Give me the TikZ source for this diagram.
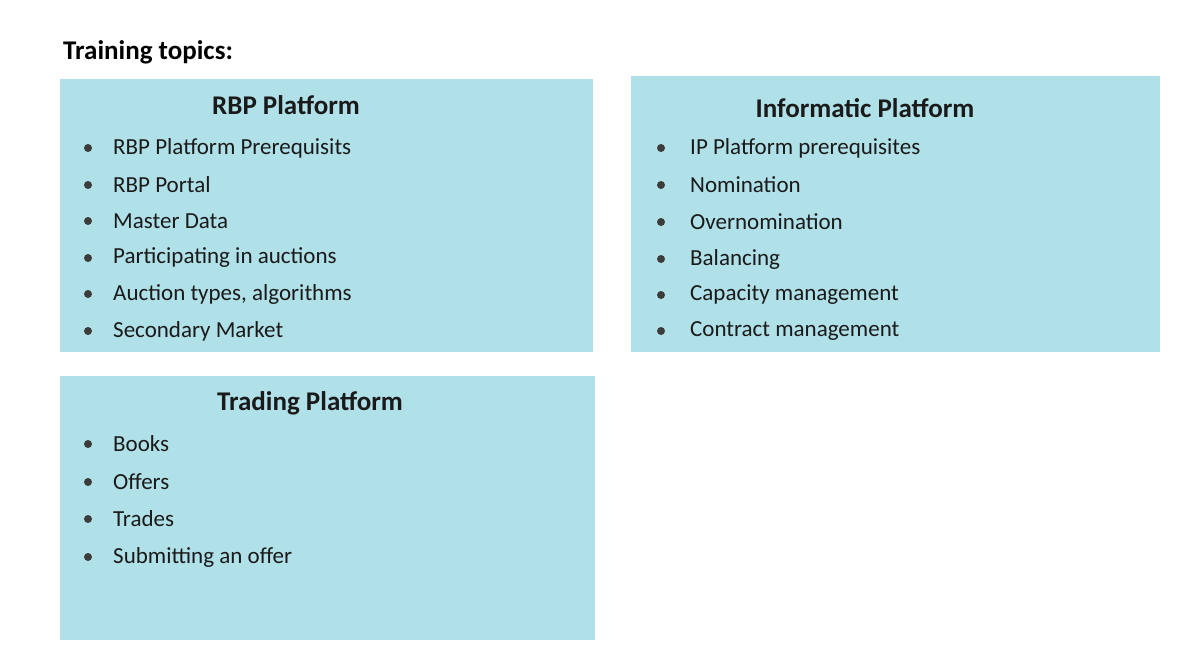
\documentclass[tikz,border=0pt]{standalone}
\usepackage{fontspec}
\setmainfont{Carlito}
\definecolor{boxc}{HTML}{B0E0E8}
\definecolor{txt}{HTML}{1A1A1A}
\begin{document}
\begin{tikzpicture}[x=1pt,y=-1pt,
  panel/.style={fill=boxc,draw=none},
  head/.style={font=\fontsize{27}{30}\selectfont\bfseries,text=txt},
  item/.style={anchor=west,font=\fontsize{23}{26}\selectfont,text=txt,inner sep=0pt},
  dot/.style={circle,fill=txt!85,inner sep=0pt,minimum size=8pt}]
\useasboundingbox (0,0) rectangle (1200,656);
\fill[white] (0,0) rectangle (1200,656);
\node[anchor=west,inner sep=0pt,font=\fontsize{27}{30}\selectfont\bfseries,text=black] (title) at (63,52) {Training topics:};
\fill[panel] (60,79) rectangle (593,352);
\fill[panel] (631,76) rectangle (1160,352);
\fill[panel] (60,376) rectangle (595,640);
\node[head] (h1) at (286,105) {RBP Platform};
\node[head] (h2) at (865,108) {Informatic Platform};
\node[head] (h3) at (310,403) {Trading Platform};
\foreach \y/\t [count=\i] in {148/RBP Platform Prerequisits,185/RBP Portal,221/Master Data,258/Participating in auctions,294/{Auction types, algorithms},331/Secondary Market}{
  \node[dot] (a\i) at (88,\y) {};
  \node[item] (at\i) at (113,\y) {\t};
}
\foreach \y/\t [count=\i] in {148/IP Platform prerequisites,185/Nomination,222/Overnomination,259/Balancing,295/Capacity management,331/Contract management}{
  \node[dot] (b\i) at (661,\y) {};
  \node[item] (bt\i) at (690,\y) {\t};
}
\foreach \y/\t [count=\i] in {444/Books,482/Offers,519/Trades,557/Submitting an offer}{
  \node[dot] (c\i) at (88,\y) {};
  \node[item] (ct\i) at (113,\y) {\t};
}
\end{tikzpicture}
\end{document}
